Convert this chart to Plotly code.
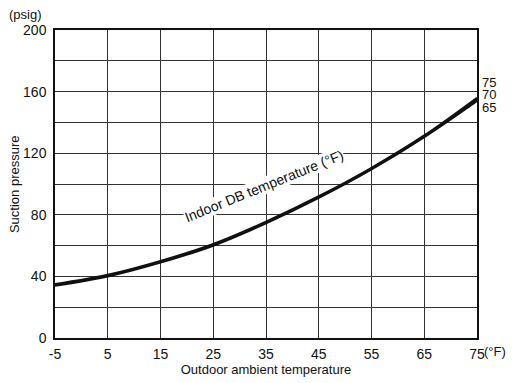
import plotly.graph_objects as go

outdoor_temp = [-5, 5, 15, 25, 35, 45, 55, 65, 75]
suction_65 = [34.0, 40.0, 49.0, 60.0, 74.5, 91.0, 109.5, 130.5, 154.0]
suction_70 = [34.5, 40.5, 49.5, 60.5, 75.0, 91.5, 110.0, 131.0, 155.0]
suction_75 = [35.0, 41.0, 50.0, 61.0, 75.5, 92.0, 110.5, 131.5, 156.0]
indoor_labels = ["65", "70", "75"]
x_ticks = [-5, 5, 15, 25, 35, 45, 55, 65, 75]
y_ticks = [0, 40, 80, 120, 160, 200]

FONT = "Liberation Sans, Arial, sans-serif"
fig = go.Figure()
for name, ys in zip(indoor_labels, [suction_65, suction_70, suction_75]):
    fig.add_trace(go.Scatter(x=outdoor_temp, y=ys, mode="lines", name=name,
                             line=dict(color="#111111", width=2.2, shape="spline"),
                             showlegend=False))

fig.update_layout(
    width=506, height=375,
    margin=dict(l=47, r=37, t=22, b=45),
    paper_bgcolor="white", plot_bgcolor="white",
    font=dict(family=FONT, size=14, color="#111111"),
    xaxis=dict(range=[-5, 75], tickvals=x_ticks, ticktext=[str(v) for v in x_ticks],
               automargin=False,
               showgrid=True, gridcolor="#333333", gridwidth=1.2,
               showline=True, linecolor="#111111", linewidth=1.5, mirror=True,
               zeroline=False, ticks="outside", ticklen=2, tickcolor="rgba(0,0,0,0)",
               title=dict(text="Outdoor ambient temperature", font=dict(size=13), standoff=0)),
    yaxis=dict(range=[0, 200], tickvals=y_ticks, automargin=False,
               showgrid=True, gridcolor="#333333", gridwidth=1.2,
               minor=dict(dtick=20, tick0=0, showgrid=True, gridcolor="#333333", gridwidth=1.2),
               showline=True, linecolor="#111111", linewidth=1.5, mirror=True,
               zeroline=False, ticks="outside", ticklen=4, tickcolor="rgba(0,0,0,0)"),
)

fig.add_annotation(xref="paper", yref="paper", x=-0.097, y=0.5, xanchor="center", yanchor="middle",
                   text="Suction pressure", textangle=-90, showarrow=False, font=dict(size=13))
fig.add_annotation(xref="paper", yref="paper", x=-0.114, y=1.0, xanchor="left", yanchor="bottom",
                   text="(psig)", showarrow=False, font=dict(size=13), yshift=6)
fig.add_annotation(xref="paper", yref="paper", x=1.0, y=0, xanchor="left", yanchor="top",
                   text="(°F)", showarrow=False, font=dict(size=13), xshift=5, yshift=-4)
fig.add_annotation(xref="paper", yref="paper", x=-0.116, y=0, xanchor="right", yanchor="top",
                   text="(°F)", showarrow=False, font=dict(size=13), yshift=-4)
for i, lab in enumerate(["75", "70", "65"]):
    fig.add_annotation(xref="paper", yref="y", x=1.0, y=165.6 - i * 7.8,
                       xanchor="left", yanchor="middle", text=lab, showarrow=False,
                       font=dict(size=13), xshift=3)
fig.add_annotation(x=34.6, y=99, text="Indoor DB temperature (°F)", showarrow=False,
                   textangle=-22, font=dict(size=14), bgcolor="white", borderpad=0)

fig.write_html("out.html")
